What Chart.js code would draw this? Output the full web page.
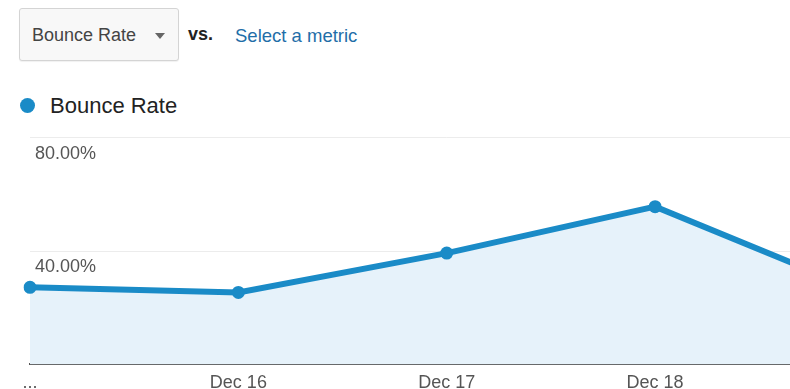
<!DOCTYPE html>
<html>
<head>
<meta charset="utf-8">
<script src="https://cdn.jsdelivr.net/npm/chart.js@4"></script>
<style>
  html, body { margin: 0; padding: 0; background: #fff; overflow: hidden; width: 790px; height: 389px; }
  body { font-family: Arial, "Liberation Sans", sans-serif; position: relative; }
  .picker {
    position: absolute; left: 19px; top: 8px; width: 158px; height: 51px;
    border: 1px solid #d4d4d4; border-radius: 3px; background: #f8f8f8;
    box-shadow: 0 1px 1px rgba(0,0,0,0.06);
  }
  .picker span { position: absolute; left: 12px; top: 16px; font-size: 18px; color: #444; }
  .picker i {
    position: absolute; left: 135px; top: 24px; width: 0; height: 0;
    border-left: 5px solid transparent; border-right: 5px solid transparent; border-top: 6px solid #666;
  }
  .vs { position: absolute; left: 188px; top: 24px; font-size: 18px; color: #222; font-weight: bold; }
  .metric { position: absolute; left: 235px; top: 25px; font-size: 18.5px; color: #1f6ea8; }
  .legend { position: absolute; left: 20px; top: 93px; font-size: 22px; color: #222; }
  .legend b {
    display: inline-block; width: 15px; height: 15px; border-radius: 50%; background: #1a8bc7;
    vertical-align: middle; margin-right: 15px; position: relative; top: -2px;
  }
  #wrap { position: absolute; left: 0; top: 122px; }
</style>
</head>
<body>
<div class="picker"><span>Bounce Rate</span><i></i></div>
<div class="vs">vs.</div>
<div class="metric">Select a metric</div>
<div class="legend"><b></b>Bounce Rate</div>
<div id="wrap"><canvas id="myChart" width="900" height="280"></canvas></div>
<script>
// du lieu
const days = ["...", "Dec 16", "Dec 17", "Dec 18", "Dec 19"];
const bounceRate = [27.2, 25.4, 39.3, 55.7, 25.5];
const yTicks = [40, 80];

const lineColor = "#1a8bc7";

new Chart("myChart", {
  type: "line",
  data: {
    labels: days,
    datasets: [{
      data: bounceRate,
      borderColor: lineColor,
      backgroundColor: "#e6f2fa",
      borderWidth: 6,
      pointRadius: 6.5,
      pointBackgroundColor: lineColor,
      pointBorderWidth: 0,
      tension: 0,
      fill: "origin"
    }]
  },
  options: {
    responsive: false,
    animation: false,
    layout: { padding: { left: 20, right: 36, top: 8, bottom: 0 } },
    plugins: {
      legend: { display: false },
      tooltip: { enabled: false }
    },
    scales: {
      x: {
        offset: false,
        grid: { display: false, drawTicks: false },
        border: { display: true, color: "#555", width: 2 },
        ticks: {
          color: "#555", padding: 8, maxRotation: 0, autoSkip: false,
          font: { family: "Arial, 'Liberation Sans'", size: 18 }
        }
      },
      y: {
        min: 0, max: 80,
        afterBuildTicks: function (axis) {
          axis.ticks = yTicks.map(function (v) { return { value: v }; });
        },
        grid: { color: "#ececec", lineWidth: 1, drawTicks: false },
        border: { display: false },
        ticks: {
          mirror: true, padding: 5, labelOffset: 16, color: "#555",
          font: { family: "Arial, 'Liberation Sans'", size: 18 },
          callback: function (v) { return v.toFixed(2) + "%"; }
        }
      }
    }
  }
});
</script>
</body>
</html>
